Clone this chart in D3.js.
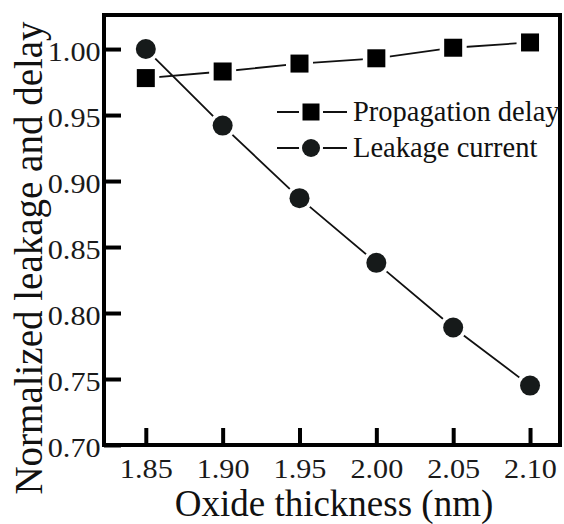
<!DOCTYPE html>
<html>
<head>
<meta charset="utf-8">
<script src="https://cdn.jsdelivr.net/npm/d3@7"></script>
<style>
  body { margin: 0; background: #fff; }
  svg { display: block; font-family: 'Liberation Serif', 'Times New Roman', serif; }
</style>
</head>
<body>
<svg id="chart" width="564" height="524"></svg>
<script>
// values
const thickness = [1.85, 1.90, 1.95, 2.00, 2.05, 2.10]; // nm
const propagationDelay = [0.978, 0.983, 0.989, 0.993, 1.001, 1.005];
const leakageCurrent = [1.000, 0.942, 0.887, 0.838, 0.789, 0.745];
const xTicks = [1.85, 1.90, 1.95, 2.00, 2.05, 2.10];
const yTicks = [0.70, 0.75, 0.80, 0.85, 0.90, 0.95, 1.00];
const legendLabels = ['Propagation delay', 'Leakage current'];

const svg = d3.select('#chart');
const LEFT = 104, RIGHT = 560, TOP = 15, BOTTOM = 445;

const xScale = d3.scaleLinear().domain([1.8228, 2.1195]).range([LEFT, RIGHT]);
const yScale = d3.scaleLinear().domain([0.70, 1.0258]).range([BOTTOM, TOP]);

// frame
svg.append('rect')
    .attr('x', LEFT).attr('y', TOP)
    .attr('width', RIGHT - LEFT).attr('height', BOTTOM - TOP)
    .attr('fill', 'none').attr('stroke', '#000').attr('stroke-width', 4);

// axes, ticks pointing inward
const xAxis = d3.axisBottom(xScale).tickValues(xTicks).tickFormat(d3.format('.2f'))
    .tickSizeInner(-17).tickSizeOuter(0).tickPadding(30);
const gx = svg.append('g').attr('transform', 'translate(0,' + BOTTOM + ')').call(xAxis);

const yAxis = d3.axisLeft(yScale).tickValues(yTicks).tickFormat(d3.format('.2f'))
    .tickSizeInner(-17).tickSizeOuter(0).tickPadding(4);
const gy = svg.append('g').attr('transform', 'translate(' + LEFT + ',0)').call(yAxis);

[gx, gy].forEach((g) => {
    g.select('.domain').remove();
    g.selectAll('line').attr('stroke', '#000').attr('stroke-width', 4);
    g.selectAll('text').attr('fill', '#1a1a1a').attr('font-size', 27)
        .attr('font-family', 'Liberation Serif');
});
// the scanned labels are a bit wider than plain Times
gx.selectAll('text').attr('y', 30).attr('dy', '0.1em').attr('transform', 'scale(1.12,1)');
gy.selectAll('text').attr('x', -3).attr('dy', '0.42em').attr('transform', 'scale(1.12,1)');

// series
const line = d3.line().x((d) => xScale(d[0])).y((d) => yScale(d[1]));
const delayPts = thickness.map((t, i) => [t, propagationDelay[i]]);
const leakPts = thickness.map((t, i) => [t, leakageCurrent[i]]);

svg.append('path').datum(delayPts).attr('d', line)
    .attr('fill', 'none').attr('stroke', '#111').attr('stroke-width', 1.8);
svg.append('path').datum(leakPts).attr('d', line)
    .attr('fill', 'none').attr('stroke', '#111').attr('stroke-width', 1.8);

const SQ = 18;
svg.selectAll('rect.delay').data(delayPts).enter().append('rect')
    .attr('class', 'delay')
    .attr('x', (d) => xScale(d[0]) - SQ / 2).attr('y', (d) => yScale(d[1]) - SQ / 2)
    .attr('width', SQ).attr('height', SQ)
    .attr('fill', '#000').attr('stroke', '#fff').attr('stroke-width', 9)
    .style('paint-order', 'stroke');

svg.selectAll('circle.leak').data(leakPts).enter().append('circle')
    .attr('class', 'leak')
    .attr('cx', (d) => xScale(d[0])).attr('cy', (d) => yScale(d[1]))
    .attr('r', 10)
    .attr('fill', '#161a1a').attr('stroke', '#fff').attr('stroke-width', 7)
    .style('paint-order', 'stroke');

// legend
const legend = svg.append('g');
legendLabels.forEach((label, i) => {
    const y = 112 + i * 36;
    const row = legend.append('g');
    row.append('line').attr('x1', 277).attr('x2', 347).attr('y1', y).attr('y2', y)
        .attr('stroke', '#111').attr('stroke-width', 1.8);
    if (i === 0) {
        row.append('rect').attr('x', 311 - 8.5).attr('y', y - 8.5).attr('width', 17).attr('height', 17)
            .attr('fill', '#000').attr('stroke', '#fff').attr('stroke-width', 7).style('paint-order', 'stroke');
    } else {
        row.append('circle').attr('cx', 311).attr('cy', y).attr('r', 9)
            .attr('fill', '#161a1a').attr('stroke', '#fff').attr('stroke-width', 6).style('paint-order', 'stroke');
    }
    row.append('text').attr('x', 353).attr('y', y).attr('dy', '0.33em')
        .attr('font-size', 28.5).attr('fill', '#111').text(label);
});

// axis titles
svg.append('text').attr('x', 334).attr('y', 516).attr('text-anchor', 'middle')
    .attr('font-size', 37).attr('fill', '#111').text('Oxide thickness (nm)');
svg.append('text').attr('transform', 'translate(42,258) rotate(-90)').attr('text-anchor', 'middle')
    .attr('font-size', 39).attr('fill', '#111').text('Normalized leakage and delay');
</script>
</body>
</html>
